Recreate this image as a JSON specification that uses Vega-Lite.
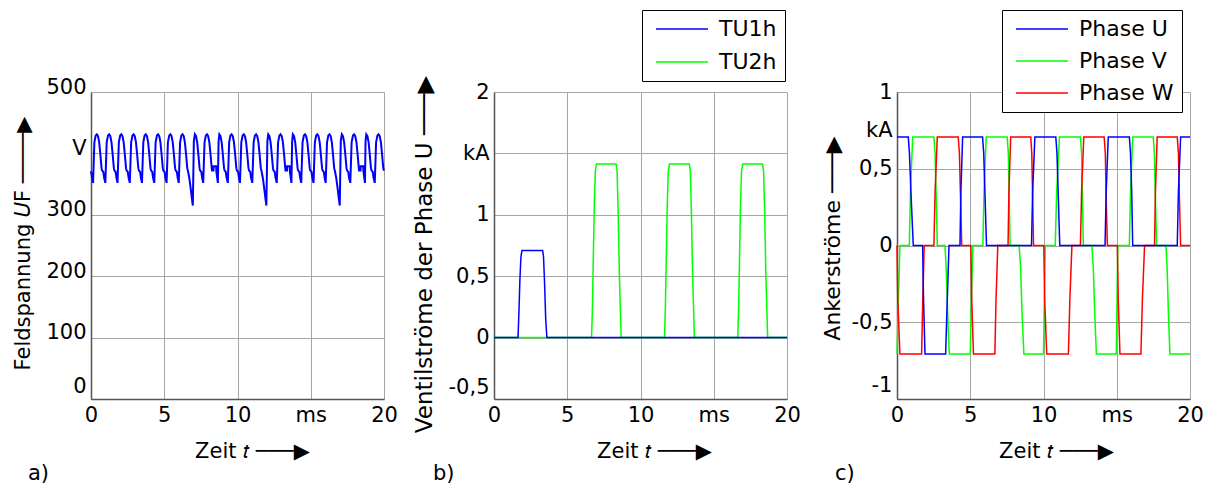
{
"$schema": "https://vega.github.io/schema/vega-lite/v6.json",
"background": "white",
"padding": {"left": 12, "top": 9, "right": 5, "bottom": 5},
"bounds": "flush",
"spacing": 110,
"resolve": {"scale": {"x": "independent", "y": "independent", "color": "independent"}, "legend": {"color": "independent"}},
"config": {
  "font": "DejaVu Sans",
  "view": {"stroke": null},
  "axis": {"labelFont": "DejaVu Sans", "titleFont": "DejaVu Sans", "labelFontSize": 21, "titleFontSize": 21, "labelColor": "black", "titleColor": "black", "titleFontWeight": "normal", "labelFontWeight": "normal", "gridColor": "#a6a6a6", "gridOpacity": 1, "gridWidth": 1, "domainColor": "#555555", "domainWidth": 1.5, "ticks": false, "labelOverlap": false, "labelFlush": false, "labelPadding": 5},
  "legend": {"labelFont": "DejaVu Sans", "labelFontSize": 22, "labelFontWeight": "normal", "labelColor": "black", "strokeColor": "black", "fillColor": "white", "padding": 8, "symbolSize": 100, "symbolStrokeWidth": 1.5, "symbolFillColor": "transparent", "labelOffset": 47, "rowPadding": 11},
  "title": {"font": "DejaVu Sans", "fontSize": 21, "fontWeight": "normal", "color": "black"}
},
"datasets": {
  "a": [
{"t":0,"v":371},
{"t":0.14,"v":352},{"t":0.23,"v":418},{"t":0.32,"v":429},{"t":0.40,"v":431},{"t":0.48,"v":428},{"t":0.56,"v":418},{"t":0.64,"v":398},{"t":0.72,"v":376},{"t":0.76,"v":372},{"t":0.84,"v":370},{"t":0.90,"v":360},
{"t":0.98,"v":352},{"t":1.07,"v":418},{"t":1.16,"v":429},{"t":1.24,"v":431},{"t":1.32,"v":428},{"t":1.40,"v":418},{"t":1.48,"v":398},{"t":1.56,"v":376},{"t":1.60,"v":372},{"t":1.68,"v":370},{"t":1.74,"v":360},
{"t":1.81,"v":352},{"t":1.90,"v":418},{"t":1.99,"v":429},{"t":2.07,"v":431},{"t":2.15,"v":428},{"t":2.23,"v":418},{"t":2.31,"v":398},{"t":2.39,"v":376},{"t":2.43,"v":372},{"t":2.51,"v":370},{"t":2.57,"v":360},
{"t":2.65,"v":352},{"t":2.74,"v":418},{"t":2.83,"v":429},{"t":2.91,"v":431},{"t":2.99,"v":428},{"t":3.07,"v":418},{"t":3.15,"v":398},{"t":3.23,"v":376},{"t":3.27,"v":372},{"t":3.35,"v":370},{"t":3.41,"v":360},
{"t":3.48,"v":352},{"t":3.57,"v":418},{"t":3.66,"v":429},{"t":3.74,"v":431},{"t":3.82,"v":428},{"t":3.90,"v":418},{"t":3.98,"v":398},{"t":4.06,"v":376},{"t":4.10,"v":372},{"t":4.18,"v":370},{"t":4.24,"v":360},
{"t":4.32,"v":352},{"t":4.41,"v":418},{"t":4.50,"v":429},{"t":4.58,"v":431},{"t":4.66,"v":428},{"t":4.74,"v":418},{"t":4.82,"v":398},{"t":4.90,"v":376},{"t":4.94,"v":372},{"t":5.02,"v":370},{"t":5.08,"v":360},
{"t":5.16,"v":352},{"t":5.25,"v":418},{"t":5.34,"v":429},{"t":5.42,"v":431},{"t":5.50,"v":428},{"t":5.58,"v":418},{"t":5.66,"v":398},{"t":5.74,"v":376},{"t":5.78,"v":372},{"t":5.86,"v":370},{"t":5.92,"v":360},
{"t":5.99,"v":352},{"t":6.08,"v":418},{"t":6.17,"v":429},{"t":6.25,"v":431},{"t":6.33,"v":428},{"t":6.41,"v":418},{"t":6.49,"v":398},{"t":6.57,"v":376},{"t":6.63,"v":370},{"t":6.71,"v":360},{"t":6.81,"v":342},{"t":6.89,"v":326},
{"t":6.95,"v":315},{"t":7.02,"v":420},{"t":7.09,"v":431},{"t":7.17,"v":428},{"t":7.25,"v":418},{"t":7.33,"v":398},{"t":7.41,"v":376},{"t":7.45,"v":372},{"t":7.53,"v":370},{"t":7.59,"v":360},
{"t":7.66,"v":352},{"t":7.75,"v":418},{"t":7.84,"v":429},{"t":7.92,"v":431},{"t":8.00,"v":428},{"t":8.08,"v":418},{"t":8.16,"v":398},{"t":8.24,"v":376},{"t":8.26,"v":372},{"t":8.36,"v":372},{"t":8.37,"v":379},{"t":8.54,"v":379},{"t":8.56,"v":370},{"t":8.66,"v":352},
{"t":8.71,"v":420},{"t":8.76,"v":431},{"t":8.84,"v":428},{"t":8.92,"v":418},{"t":9.00,"v":398},{"t":9.08,"v":376},{"t":9.12,"v":372},{"t":9.20,"v":370},{"t":9.26,"v":360},
{"t":9.34,"v":352},{"t":9.43,"v":418},{"t":9.52,"v":429},{"t":9.60,"v":431},{"t":9.68,"v":428},{"t":9.76,"v":418},{"t":9.84,"v":398},{"t":9.92,"v":376},{"t":9.96,"v":372},{"t":10.04,"v":370},{"t":10.10,"v":360},
{"t":10.17,"v":352},{"t":10.26,"v":418},{"t":10.35,"v":429},{"t":10.43,"v":431},{"t":10.51,"v":428},{"t":10.59,"v":418},{"t":10.67,"v":398},{"t":10.75,"v":376},{"t":10.79,"v":372},{"t":10.87,"v":370},{"t":10.93,"v":360},
{"t":11.01,"v":352},{"t":11.10,"v":418},{"t":11.19,"v":429},{"t":11.27,"v":431},{"t":11.35,"v":428},{"t":11.43,"v":418},{"t":11.51,"v":398},{"t":11.59,"v":376},{"t":11.65,"v":370},{"t":11.73,"v":360},{"t":11.83,"v":342},{"t":11.91,"v":326},
{"t":11.97,"v":315},{"t":12.04,"v":420},{"t":12.10,"v":431},{"t":12.18,"v":428},{"t":12.26,"v":418},{"t":12.34,"v":398},{"t":12.42,"v":376},{"t":12.46,"v":372},{"t":12.54,"v":370},{"t":12.60,"v":360},
{"t":12.68,"v":352},{"t":12.77,"v":418},{"t":12.86,"v":429},{"t":12.94,"v":431},{"t":13.02,"v":428},{"t":13.10,"v":418},{"t":13.18,"v":398},{"t":13.26,"v":376},{"t":13.28,"v":372},{"t":13.38,"v":372},{"t":13.39,"v":379},{"t":13.56,"v":379},{"t":13.58,"v":370},{"t":13.68,"v":352},
{"t":13.73,"v":420},{"t":13.78,"v":431},{"t":13.86,"v":428},{"t":13.94,"v":418},{"t":14.02,"v":398},{"t":14.10,"v":376},{"t":14.14,"v":372},{"t":14.22,"v":370},{"t":14.28,"v":360},
{"t":14.35,"v":352},{"t":14.44,"v":418},{"t":14.53,"v":429},{"t":14.61,"v":431},{"t":14.69,"v":428},{"t":14.77,"v":418},{"t":14.85,"v":398},{"t":14.93,"v":376},{"t":14.97,"v":372},{"t":15.05,"v":370},{"t":15.11,"v":360},
{"t":15.19,"v":352},{"t":15.28,"v":418},{"t":15.37,"v":429},{"t":15.45,"v":431},{"t":15.53,"v":428},{"t":15.61,"v":418},{"t":15.69,"v":398},{"t":15.77,"v":376},{"t":15.81,"v":372},{"t":15.89,"v":370},{"t":15.95,"v":360},
{"t":16.02,"v":352},{"t":16.11,"v":418},{"t":16.20,"v":429},{"t":16.28,"v":431},{"t":16.36,"v":428},{"t":16.44,"v":418},{"t":16.52,"v":398},{"t":16.60,"v":376},{"t":16.66,"v":370},{"t":16.74,"v":360},{"t":16.84,"v":342},{"t":16.92,"v":326},
{"t":16.98,"v":315},{"t":17.05,"v":420},{"t":17.12,"v":431},{"t":17.20,"v":428},{"t":17.28,"v":418},{"t":17.36,"v":398},{"t":17.44,"v":376},{"t":17.48,"v":372},{"t":17.56,"v":370},{"t":17.62,"v":360},
{"t":17.70,"v":352},{"t":17.79,"v":418},{"t":17.88,"v":429},{"t":17.96,"v":431},{"t":18.04,"v":428},{"t":18.12,"v":418},{"t":18.20,"v":398},{"t":18.28,"v":376},{"t":18.30,"v":372},{"t":18.40,"v":372},{"t":18.41,"v":379},{"t":18.58,"v":379},{"t":18.60,"v":370},{"t":18.70,"v":352},
{"t":18.74,"v":420},{"t":18.79,"v":431},{"t":18.87,"v":428},{"t":18.95,"v":418},{"t":19.03,"v":398},{"t":19.11,"v":376},{"t":19.15,"v":372},{"t":19.23,"v":370},{"t":19.29,"v":360},
{"t":19.37,"v":352},{"t":19.46,"v":418},{"t":19.55,"v":429},{"t":19.63,"v":431},{"t":19.71,"v":428},{"t":19.79,"v":418},{"t":19.87,"v":398},{"t":19.95,"v":376},{"t":20.0,"v":372}
  ],
  "b": [
{"t":0,"i":0,"s":"TU2h"},{"t":6.66,"i":0,"s":"TU2h"},{"t":6.72,"i":0.25,"s":"TU2h"},{"t":6.78,"i":0.65,"s":"TU2h"},{"t":6.85,"i":1.1,"s":"TU2h"},{"t":6.92,"i":1.36,"s":"TU2h"},{"t":7.0,"i":1.414,"s":"TU2h"},{"t":8.33,"i":1.414,"s":"TU2h"},{"t":8.40,"i":1.36,"s":"TU2h"},{"t":8.47,"i":1.05,"s":"TU2h"},{"t":8.56,"i":0.5,"s":"TU2h"},{"t":8.68,"i":0,"s":"TU2h"},
{"t":11.64,"i":0,"s":"TU2h"},{"t":11.70,"i":0.25,"s":"TU2h"},{"t":11.76,"i":0.65,"s":"TU2h"},{"t":11.83,"i":1.1,"s":"TU2h"},{"t":11.90,"i":1.36,"s":"TU2h"},{"t":11.98,"i":1.414,"s":"TU2h"},{"t":13.33,"i":1.414,"s":"TU2h"},{"t":13.40,"i":1.36,"s":"TU2h"},{"t":13.47,"i":1.05,"s":"TU2h"},{"t":13.56,"i":0.5,"s":"TU2h"},{"t":13.68,"i":0,"s":"TU2h"},
{"t":16.64,"i":0,"s":"TU2h"},{"t":16.70,"i":0.25,"s":"TU2h"},{"t":16.76,"i":0.65,"s":"TU2h"},{"t":16.83,"i":1.1,"s":"TU2h"},{"t":16.90,"i":1.36,"s":"TU2h"},{"t":16.98,"i":1.414,"s":"TU2h"},{"t":18.33,"i":1.414,"s":"TU2h"},{"t":18.40,"i":1.36,"s":"TU2h"},{"t":18.47,"i":1.05,"s":"TU2h"},{"t":18.56,"i":0.5,"s":"TU2h"},{"t":18.68,"i":0,"s":"TU2h"},{"t":20,"i":0,"s":"TU2h"},
{"t":0,"i":0,"s":"TU1h"},{"t":1.64,"i":0,"s":"TU1h"},{"t":1.70,"i":0.2,"s":"TU1h"},{"t":1.77,"i":0.48,"s":"TU1h"},{"t":1.84,"i":0.66,"s":"TU1h"},{"t":1.91,"i":0.71,"s":"TU1h"},{"t":3.32,"i":0.71,"s":"TU1h"},{"t":3.38,"i":0.66,"s":"TU1h"},{"t":3.45,"i":0.45,"s":"TU1h"},{"t":3.53,"i":0.15,"s":"TU1h"},{"t":3.61,"i":0,"s":"TU1h"},{"t":20,"i":0,"s":"TU1h"}
  ],
  "c": [
{"t":0,"i":-0.707,"s":"Phase V"},{"t":0.08,"i":-0.4,"s":"Phase V"},{"t":0.2,"i":0,"s":"Phase V"},{"t":0.84,"i":0,"s":"Phase V"},{"t":0.92,"i":0.35,"s":"Phase V"},{"t":1.07,"i":0.707,"s":"Phase V"},{"t":2.52,"i":0.707,"s":"Phase V"},{"t":2.60,"i":0.6,"s":"Phase V"},{"t":2.68,"i":0.3,"s":"Phase V"},{"t":2.75,"i":0,"s":"Phase V"},
{"t":3.27,"i":0,"s":"Phase V"},{"t":3.36,"i":-0.15,"s":"Phase V"},{"t":3.46,"i":-0.45,"s":"Phase V"},{"t":3.57,"i":-0.707,"s":"Phase V"},{"t":5.00,"i":-0.707,"s":"Phase V"},{"t":5.08,"i":-0.35,"s":"Phase V"},{"t":5.18,"i":0,"s":"Phase V"},
{"t":5.86,"i":0,"s":"Phase V"},{"t":5.94,"i":0.35,"s":"Phase V"},{"t":6.09,"i":0.707,"s":"Phase V"},{"t":7.52,"i":0.707,"s":"Phase V"},{"t":7.60,"i":0.6,"s":"Phase V"},{"t":7.66,"i":0.3,"s":"Phase V"},{"t":7.72,"i":0,"s":"Phase V"},
{"t":8.34,"i":0,"s":"Phase V"},{"t":8.44,"i":-0.15,"s":"Phase V"},{"t":8.54,"i":-0.45,"s":"Phase V"},{"t":8.66,"i":-0.707,"s":"Phase V"},{"t":10.00,"i":-0.707,"s":"Phase V"},{"t":10.06,"i":-0.35,"s":"Phase V"},{"t":10.13,"i":0,"s":"Phase V"},
{"t":10.80,"i":0,"s":"Phase V"},{"t":10.90,"i":0.35,"s":"Phase V"},{"t":11.09,"i":0.707,"s":"Phase V"},{"t":12.52,"i":0.707,"s":"Phase V"},{"t":12.60,"i":0.6,"s":"Phase V"},{"t":12.66,"i":0.3,"s":"Phase V"},{"t":12.72,"i":0,"s":"Phase V"},
{"t":13.30,"i":0,"s":"Phase V"},{"t":13.40,"i":-0.15,"s":"Phase V"},{"t":13.50,"i":-0.45,"s":"Phase V"},{"t":13.61,"i":-0.707,"s":"Phase V"},{"t":14.97,"i":-0.707,"s":"Phase V"},{"t":15.02,"i":-0.35,"s":"Phase V"},{"t":15.07,"i":0,"s":"Phase V"},
{"t":15.86,"i":0,"s":"Phase V"},{"t":15.94,"i":0.35,"s":"Phase V"},{"t":16.09,"i":0.707,"s":"Phase V"},{"t":17.49,"i":0.707,"s":"Phase V"},{"t":17.57,"i":0.6,"s":"Phase V"},{"t":17.64,"i":0.3,"s":"Phase V"},{"t":17.72,"i":0,"s":"Phase V"},
{"t":18.36,"i":0,"s":"Phase V"},{"t":18.44,"i":-0.15,"s":"Phase V"},{"t":18.53,"i":-0.45,"s":"Phase V"},{"t":18.63,"i":-0.707,"s":"Phase V"},{"t":20,"i":-0.707,"s":"Phase V"},
{"t":0,"i":0,"s":"Phase W"},{"t":0.05,"i":-0.35,"s":"Phase W"},{"t":0.2,"i":-0.707,"s":"Phase W"},{"t":1.68,"i":-0.707,"s":"Phase W"},{"t":1.76,"i":-0.35,"s":"Phase W"},{"t":1.86,"i":0,"s":"Phase W"},
{"t":2.52,"i":0,"s":"Phase W"},{"t":2.60,"i":0.35,"s":"Phase W"},{"t":2.75,"i":0.707,"s":"Phase W"},{"t":4.18,"i":0.707,"s":"Phase W"},{"t":4.26,"i":0.6,"s":"Phase W"},{"t":4.34,"i":0.3,"s":"Phase W"},{"t":4.42,"i":0,"s":"Phase W"},
{"t":5.04,"i":0,"s":"Phase W"},{"t":5.10,"i":-0.35,"s":"Phase W"},{"t":5.22,"i":-0.707,"s":"Phase W"},{"t":6.68,"i":-0.707,"s":"Phase W"},{"t":6.76,"i":-0.35,"s":"Phase W"},{"t":6.88,"i":0,"s":"Phase W"},
{"t":7.58,"i":0,"s":"Phase W"},{"t":7.64,"i":0.35,"s":"Phase W"},{"t":7.76,"i":0.707,"s":"Phase W"},{"t":9.13,"i":0.707,"s":"Phase W"},{"t":9.20,"i":0.6,"s":"Phase W"},{"t":9.26,"i":0.3,"s":"Phase W"},{"t":9.32,"i":0,"s":"Phase W"},
{"t":10.02,"i":0,"s":"Phase W"},{"t":10.08,"i":-0.35,"s":"Phase W"},{"t":10.22,"i":-0.707,"s":"Phase W"},{"t":11.70,"i":-0.707,"s":"Phase W"},{"t":11.80,"i":-0.35,"s":"Phase W"},{"t":11.94,"i":0,"s":"Phase W"},
{"t":12.52,"i":0,"s":"Phase W"},{"t":12.60,"i":0.35,"s":"Phase W"},{"t":12.75,"i":0.707,"s":"Phase W"},{"t":14.14,"i":0.707,"s":"Phase W"},{"t":14.22,"i":0.6,"s":"Phase W"},{"t":14.28,"i":0.3,"s":"Phase W"},{"t":14.36,"i":0,"s":"Phase W"},
{"t":15.04,"i":0,"s":"Phase W"},{"t":15.10,"i":-0.35,"s":"Phase W"},{"t":15.22,"i":-0.707,"s":"Phase W"},{"t":16.65,"i":-0.707,"s":"Phase W"},{"t":16.75,"i":-0.35,"s":"Phase W"},{"t":16.90,"i":0,"s":"Phase W"},
{"t":17.58,"i":0,"s":"Phase W"},{"t":17.64,"i":0.35,"s":"Phase W"},{"t":17.76,"i":0.707,"s":"Phase W"},{"t":19.13,"i":0.707,"s":"Phase W"},{"t":19.21,"i":0.6,"s":"Phase W"},{"t":19.28,"i":0.3,"s":"Phase W"},{"t":19.36,"i":0,"s":"Phase W"},{"t":20,"i":0,"s":"Phase W"},
{"t":0,"i":0.707,"s":"Phase U"},{"t":0.77,"i":0.707,"s":"Phase U"},{"t":0.85,"i":0.6,"s":"Phase U"},{"t":0.95,"i":0.35,"s":"Phase U"},{"t":1.11,"i":0,"s":"Phase U"},{"t":1.75,"i":0,"s":"Phase U"},{"t":1.80,"i":-0.3,"s":"Phase U"},{"t":1.91,"i":-0.707,"s":"Phase U"},{"t":3.32,"i":-0.707,"s":"Phase U"},{"t":3.40,"i":-0.45,"s":"Phase U"},{"t":3.55,"i":0,"s":"Phase U"},
{"t":4.30,"i":0,"s":"Phase U"},{"t":4.36,"i":0.35,"s":"Phase U"},{"t":4.48,"i":0.707,"s":"Phase U"},{"t":5.84,"i":0.707,"s":"Phase U"},{"t":5.92,"i":0.6,"s":"Phase U"},{"t":6.00,"i":0.35,"s":"Phase U"},{"t":6.11,"i":0,"s":"Phase U"},
{"t":9.18,"i":0,"s":"Phase U"},{"t":9.26,"i":0.35,"s":"Phase U"},{"t":9.41,"i":0.707,"s":"Phase U"},{"t":10.84,"i":0.707,"s":"Phase U"},{"t":10.92,"i":0.6,"s":"Phase U"},{"t":11.00,"i":0.35,"s":"Phase U"},{"t":11.11,"i":0,"s":"Phase U"},
{"t":14.20,"i":0,"s":"Phase U"},{"t":14.28,"i":0.35,"s":"Phase U"},{"t":14.42,"i":0.707,"s":"Phase U"},{"t":15.86,"i":0.707,"s":"Phase U"},{"t":15.94,"i":0.6,"s":"Phase U"},{"t":16.02,"i":0.35,"s":"Phase U"},{"t":16.09,"i":0,"s":"Phase U"},
{"t":19.13,"i":0,"s":"Phase U"},{"t":19.21,"i":0.35,"s":"Phase U"},{"t":19.36,"i":0.707,"s":"Phase U"},{"t":20,"i":0.707,"s":"Phase U"}
  ]
},
"hconcat": [
  {
    "width": 293, "height": 307,
    "data": {"name": "a"},
    "title": {"text": "a)", "orient": "bottom", "anchor": "start", "frame": "group", "dx": -63, "offset": 2},
    "mark": {"type": "line", "color": "#0000ff", "strokeWidth": 2},
    "encoding": {
      "x": {"field": "t", "type": "quantitative", "scale": {"domain": [0, 20], "nice": false},
            "axis": {"values": [0, 5, 10, 15, 20], "labelExpr": "datum.value == 15 ? 'ms' : datum.label", "title": "Zeit 𝑡 ───▶", "titleX": 161, "titleY": 52, "titleAlign": "center", "titleBaseline": "middle"}},
      "y": {"field": "v", "type": "quantitative", "scale": {"domain": [0, 500], "nice": false, "zero": false},
            "axis": {"values": [0, 100, 200, 300, 400, 500], "labelExpr": "datum.value == 400 ? 'V' : datum.label", "labelOffset": {"condition": {"test": "datum.value == 0", "value": -13}, "value": -5}, "title": "Feldspannung 𝑈F  ────▶", "titleFontSize": 21, "titleX": -68, "titleY": 151, "titleAngle": -90, "titleAlign": "center", "titleBaseline": "middle"}}
    }
  },
  {
    "width": 293, "height": 307,
    "data": {"name": "b"},
    "title": {"text": "b)", "orient": "bottom", "anchor": "start", "frame": "group", "dx": -61, "offset": 2},
    "encoding": {
      "x": {"field": "t", "type": "quantitative", "scale": {"domain": [0, 20], "nice": false},
            "axis": {"values": [0, 5, 10, 15, 20], "labelExpr": "datum.value == 15 ? 'ms' : datum.label", "title": "Zeit 𝑡 ───▶", "titleX": 160, "titleY": 52, "titleAlign": "center", "titleBaseline": "middle"}},
      "y": {"field": "i", "type": "quantitative", "scale": {"domain": [-0.5, 2], "nice": false, "zero": false},
            "axis": {"values": [-0.5, 0, 0.5, 1, 1.5, 2], "labelExpr": "datum.value == 1.5 ? 'kA' : replace('' + datum.value, '.', ',')", "labelOffset": {"condition": {"test": "datum.value == -0.5", "value": -12}, "value": 0}, "title": "Ventilströme der Phase U  ───▶", "titleFontSize": 23, "titleX": -70, "titleY": 162, "titleAngle": -90, "titleAlign": "center", "titleBaseline": "middle"}},
      "color": {"field": "s", "type": "nominal", "scale": {"domain": ["TU1h", "TU2h"], "range": ["#0000ff", "#00ff00"]},
                "legend": {"title": null, "orient": "none", "legendX": 148, "legendY": -82, "symbolType": "M-1,0H9.4"}}
    },
    "layer": [
      {"transform": [{"filter": "datum.s == 'TU2h'"}], "mark": {"type": "line", "strokeWidth": 1.5}},
      {"transform": [{"filter": "datum.s == 'TU1h'"}], "mark": {"type": "line", "strokeWidth": 1.5}}
    ]
  },
  {
    "width": 293, "height": 307,
    "data": {"name": "c"},
    "title": {"text": "c)", "orient": "bottom", "anchor": "start", "frame": "group", "dx": -62, "offset": 2},
    "encoding": {
      "x": {"field": "t", "type": "quantitative", "scale": {"domain": [0, 20], "nice": false},
            "axis": {"values": [0, 5, 10, 15, 20], "labelExpr": "datum.value == 15 ? 'ms' : datum.label", "title": "Zeit 𝑡 ───▶", "titleX": 159, "titleY": 52, "titleAlign": "center", "titleBaseline": "middle"}},
      "y": {"field": "i", "type": "quantitative", "scale": {"domain": [-1, 1], "nice": false, "zero": false},
            "axis": {"values": [-1, -0.5, 0, 0.5, 0.75, 1], "labelExpr": "datum.value == 0.75 ? 'kA' : replace('' + datum.value, '.', ',')", "gridOpacity": {"condition": {"test": "datum.value == 0.75", "value": 0}, "value": 1}, "labelOffset": {"condition": {"test": "datum.value == -1", "value": -14}, "value": 0}, "title": "Ankerströme  ───▶", "titleFontSize": 22, "titleX": -65, "titleY": 146, "titleAngle": -90, "titleAlign": "center", "titleBaseline": "middle"}},
      "color": {"field": "s", "type": "nominal", "scale": {"domain": ["Phase U", "Phase V", "Phase W"], "range": ["#0000ff", "#00ff00", "#ff0000"]},
                "legend": {"title": null, "orient": "none", "legendX": 105, "legendY": -82, "symbolType": "M-1,0H9.4", "rowPadding": 10}}
    },
    "layer": [
      {"transform": [{"filter": "datum.s == 'Phase V'"}], "mark": {"type": "line", "strokeWidth": 1.5}},
      {"transform": [{"filter": "datum.s == 'Phase W'"}], "mark": {"type": "line", "strokeWidth": 1.5}},
      {"transform": [{"filter": "datum.s == 'Phase U'"}], "mark": {"type": "line", "strokeWidth": 1.5}}
    ]
  }
]
}
